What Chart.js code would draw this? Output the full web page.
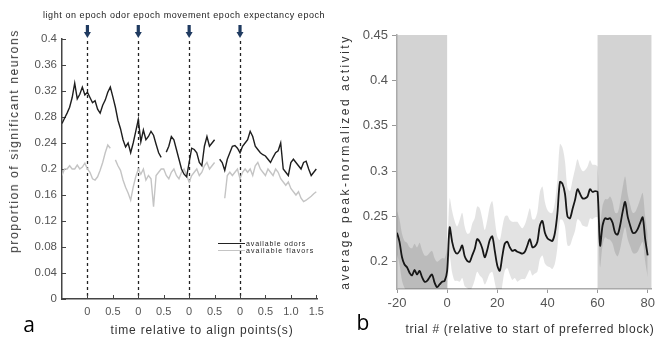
<!DOCTYPE html>
<html>
<head>
<meta charset="utf-8">
<script src="https://cdn.jsdelivr.net/npm/chart.js@4.4.0/dist/chart.umd.min.js"></script>
<style>
    body { margin: 0; background: #fff; width: 658px; height: 344px; overflow: hidden; position: relative; font-family: "Liberation Sans", Arial, sans-serif; }
    #wrapA { position: absolute; left: 0; top: 0; width: 330px; height: 344px; }
    #wrapB { position: absolute; left: 330px; top: 0; width: 328px; height: 344px; }
    .txt { position: absolute; white-space: nowrap; color: #333; }
    .rot { transform: translate(-50%, -50%) rotate(-90deg); }
    .hor { transform: translate(-50%, -50%); }
    .panel { position: absolute; font-family: "Open Sans", sans-serif; font-size: 21px; color: #000; transform: translate(-50%, -50%); }
    #legendA { position: absolute; left: 218px; top: 240px; font-size: 7px; color: #222; line-height: 7px; }
    #legendA div { display: flex; align-items: center; height: 7px; white-space: nowrap; }
    #legendA span.ln { display: inline-block; width: 27px; height: 1.4px; margin-right: 1px; }
</style>
</head>
<body>
<div id="wrapA"><canvas id="panelA"></canvas></div>
<div id="wrapB"><canvas id="panelB"></canvas></div>

<div class="txt" id="epochHeader" style="left:43px; top:10px; font-size:9px; color:#222;">light on epoch odor epoch movement epoch expectancy epoch</div>
<div class="txt rot" id="yTitleA" style="left:14px; top:141px; font-size:12px;">proportion of significant neurons</div>
<div class="txt hor" id="xTitleA" style="left:202px; top:330px; font-size:12px;">time relative to align points(s)</div>
<div class="txt rot" id="yTitleB" style="left:345px; top:162px; font-size:12px;">average peak-normalized activity</div>
<div class="txt hor" id="xTitleB" style="left:530px; top:329px; font-size:12px;">trial # (relative to start of preferred block)</div>
<div class="panel" style="left:29px; top:324px;">a</div>
<div class="panel" style="left:363px; top:322px;">b</div>
<div id="legendA">
    <div><span class="ln" style="background:#222"></span><span id="legOdors">available odors</span></div>
    <div><span class="ln" style="background:#c4c4c4"></span><span id="legFlavors">available flavors</span></div>
</div>

<script>
// ---------- panel a : epochs laid end to end, align points at 0,1,2,3 ----------
const timeA = [-0.5, -0.45, -0.4, -0.35, -0.3, -0.25, -0.2, -0.15, -0.1, -0.05,
    0, 0.05, 0.1, 0.15, 0.2, 0.25, 0.3, 0.35, 0.4, 0.45,
    0.5, 0.55, 0.6, 0.65, 0.7, 0.75, 0.8, 0.85, 0.9, 0.95,
    1, 1.05, 1.1, 1.15, 1.2, 1.25, 1.3, 1.35, 1.4, 1.45,
    1.5, 1.55, 1.6, 1.65, 1.7, 1.75, 1.8, 1.85, 1.9, 1.95,
    2, 2.05, 2.1, 2.15, 2.2, 2.25, 2.3, 2.35, 2.4, 2.45,
    2.5, 2.55, 2.6, 2.65, 2.7, 2.75, 2.8, 2.85, 2.9, 2.95,
    3, 3.05, 3.1, 3.15, 3.2, 3.25, 3.3, 3.35, 3.4, 3.45,
    3.5, 3.55, 3.6, 3.65, 3.7, 3.75, 3.8, 3.85, 3.9, 3.95,
    4, 4.05, 4.1, 4.15, 4.2, 4.25, 4.3, 4.35, 4.4, 4.45, 4.5];

const availableOdors = [0.27, 0.278, 0.286, 0.295, 0.31, 0.332, 0.308, 0.315, 0.326, 0.314,
    0.318, 0.31, 0.302, 0.305, 0.292, 0.286, 0.298, 0.306, 0.318, 0.326,
    0.311, 0.295, 0.275, 0.262, 0.245, 0.234, 0.24, 0.225, 0.24, 0.258,
    0.276, 0.242, 0.26, 0.245, 0.25, 0.258, 0.252, 0.238, 0.225, 0.218,
    null, 0.226, 0.235, 0.25, 0.245, 0.23, 0.215, 0.2, 0.192, 0.188,
    0.21, 0.232, 0.23, 0.225, 0.21, 0.205, 0.235, 0.25, 0.235, 0.24,
    0.245, null, 0.215, 0.21, 0.198, 0.215, 0.225, 0.235, 0.236, 0.232,
    0.225, 0.235, 0.24, 0.245, 0.258, 0.25, 0.235, 0.23, 0.225, 0.222,
    0.22, 0.215, 0.21, 0.218, 0.225, 0.228, 0.24, 0.2, 0.195, 0.19,
    0.21, 0.215, 0.21, 0.205, 0.2, 0.21, 0.212, 0.2, 0.19, 0.195, 0.2];

const availableFlavors = [0.19, 0.2, 0.2, 0.205, 0.2, 0.2, 0.206, 0.2, 0.203, 0.209,
    0.2, 0.195, 0.185, 0.183, 0.188, 0.198, 0.21, 0.225, 0.237, 0.232,
    null, 0.214, 0.205, 0.198, 0.183, 0.172, 0.163, 0.152, 0.172, 0.188,
    0.2, 0.192, 0.2, 0.183, 0.19, 0.185, 0.142, 0.19, 0.195, 0.2,
    0.2, 0.19, 0.185, 0.195, 0.2, 0.19, 0.185, 0.195, 0.2, 0.19,
    0.18, 0.19, 0.195, 0.2, 0.19, 0.195, 0.205, 0.21, 0.2, 0.205,
    0.21, null, null, null, 0.155, 0.19, 0.195, 0.19, 0.195, 0.2,
    0.185, 0.195, 0.2, 0.195, 0.2, 0.19, 0.205, 0.21, 0.2, 0.195,
    0.19, 0.2, 0.195, 0.19, 0.2, 0.195, 0.185, 0.18, 0.175, 0.18,
    0.17, 0.165, 0.16, 0.165, 0.155, 0.15, 0.152, 0.155, 0.158, 0.162, 0.165];

const yTicksA = [0, 0.04, 0.08, 0.12, 0.16, 0.2, 0.24, 0.28, 0.32, 0.36, 0.4];
const xTickPosA = [0, 0.5, 1, 1.5, 2, 2.5, 3, 3.5, 4, 4.5];
const xTickLabelsA = ['0', '0.5', '0', '0.5', '0', '0.5', '0', '0.5', '1.0', '1.5'];
const alignPoints = [0, 1, 2, 3];

// ---------- panel b : trials around the preferred block ----------
const trials = [-20, -19, -18, -17, -16, -15, -14, -13, -12, -11,
    -10, -9, -8, -7, -6, -5, -4, -3, -2, -1,
    0, 1, 2, 3, 4, 5, 6, 7, 8, 9,
    10, 11, 12, 13, 14, 15, 16, 17, 18, 19,
    20, 21, 22, 23, 24, 25, 26, 27, 28, 29,
    30, 31, 32, 33, 34, 35, 36, 37, 38, 39,
    40, 41, 42, 43, 44, 45, 46, 47, 48, 49,
    50, 51, 52, 53, 54, 55, 56, 57, 58, 59,
    60, 61, 62, 63, 64, 65, 66, 67, 68, 69,
    70, 71, 72, 73, 74, 75, 76, 77, 78, 79, 80];

const meanActivity = [0.232, 0.222, 0.205, 0.197, 0.194, 0.188, 0.185, 0.191, 0.186, 0.19,
    0.183, 0.178, 0.179, 0.183, 0.186, 0.177, 0.172, 0.175, 0.178, 0.179,
    0.19, 0.238, 0.222, 0.212, 0.209, 0.212, 0.218, 0.206, 0.201, 0.2,
    0.207, 0.214, 0.225, 0.222, 0.215, 0.205, 0.213, 0.224, 0.228, 0.212,
    0.196, 0.19, 0.206, 0.22, 0.222, 0.216, 0.212, 0.213, 0.211, 0.21,
    0.209, 0.211, 0.218, 0.225, 0.216, 0.217, 0.222, 0.24, 0.245, 0.232,
    0.226, 0.224, 0.223, 0.232, 0.254, 0.288, 0.286, 0.275, 0.25, 0.248,
    0.258, 0.268, 0.28, 0.275, 0.27, 0.27, 0.272, 0.28, 0.277, 0.278,
    0.277, 0.218, 0.24, 0.248, 0.247, 0.248, 0.243, 0.232, 0.23, 0.24,
    0.255, 0.266, 0.25, 0.24, 0.232, 0.232, 0.236, 0.243, 0.249, 0.225, 0.207];

const semActivity = [0.024, 0.025, 0.026, 0.026, 0.027, 0.028, 0.03, 0.029, 0.03, 0.031,
    0.03, 0.029, 0.028, 0.027, 0.026, 0.027, 0.028, 0.027, 0.026, 0.025,
    0.026, 0.032, 0.034, 0.033, 0.03, 0.034, 0.036, 0.033, 0.03, 0.032,
    0.035, 0.034, 0.036, 0.037, 0.033, 0.03, 0.033, 0.037, 0.039, 0.035,
    0.032, 0.034, 0.032, 0.03, 0.029, 0.03, 0.032, 0.031, 0.033, 0.03,
    0.028, 0.03, 0.032, 0.034, 0.031, 0.03, 0.033, 0.037, 0.038, 0.034,
    0.031, 0.03, 0.031, 0.034, 0.038, 0.042, 0.04, 0.036, 0.032, 0.03,
    0.032, 0.034, 0.033, 0.03, 0.03, 0.031, 0.033, 0.032, 0.03, 0.029,
    0.028, 0.024, 0.022, 0.021, 0.022, 0.024, 0.023, 0.022, 0.024, 0.026,
    0.027, 0.028, 0.025, 0.023, 0.022, 0.023, 0.025, 0.026, 0.027, 0.025, 0.024];

const xTicksB = [-20, 0, 20, 40, 60, 80];
const yTicksB = [0.2, 0.25, 0.3, 0.35, 0.4, 0.45];
const shadedBlocks = [[-20, 0], [60, 81.5]];

Chart.defaults.font.family = '"Liberation Sans", Arial, sans-serif';
Chart.defaults.animation = false;

function pairs(xs, ys) {
    return xs.map((x, i) => ({ x: x, y: ys[i] }));
}

// stretch a text box to the width it has in the picture
function fitWidth(id, width) {
    const el = document.getElementById(id);
    const n = el.textContent.length;
    const extra = (width - el.offsetWidth) / n;
    el.style.letterSpacing = extra + 'px';
}

/////////////////// Panel a ///////////////////
const epochMarks = {
    id: 'epochMarks',
    beforeDatasetsDraw(chart) {
        const { ctx, chartArea, scales: { x, y } } = chart;
        ctx.save();
        // dotted lines at the align points
        ctx.strokeStyle = '#222';
        ctx.lineWidth = 1.3;
        ctx.setLineDash([3, 3]);
        alignPoints.forEach(p => {
            const px = Math.round(x.getPixelForValue(p)) + 0.5;
            ctx.beginPath();
            ctx.moveTo(px, chartArea.top + 2);
            ctx.lineTo(px, chartArea.bottom);
            ctx.stroke();
        });
        ctx.setLineDash([]);
        // arrows above the plot
        ctx.fillStyle = '#1f3a60';
        alignPoints.forEach(p => {
            const px = x.getPixelForValue(p);
            ctx.fillRect(px - 1.6, chartArea.top - 14, 3.2, 8);
            ctx.beginPath();
            ctx.moveTo(px - 3.5, chartArea.top - 7);
            ctx.lineTo(px + 3.5, chartArea.top - 7);
            ctx.lineTo(px, chartArea.top - 1);
            ctx.closePath();
            ctx.fill();
        });
        // inward tick marks
        ctx.strokeStyle = '#444';
        ctx.lineWidth = 1;
        y.ticks.forEach(t => {
            const py = Math.round(y.getPixelForValue(t.value)) + 0.5;
            ctx.beginPath();
            ctx.moveTo(chartArea.left, py);
            ctx.lineTo(chartArea.left + 4, py);
            ctx.stroke();
        });
        x.ticks.forEach(t => {
            const px = Math.round(x.getPixelForValue(t.value)) + 0.5;
            ctx.beginPath();
            ctx.moveTo(px, chartArea.bottom);
            ctx.lineTo(px, chartArea.bottom - 4);
            ctx.stroke();
        });
        ctx.restore();
    }
};

new Chart(document.getElementById('panelA'), {
    type: 'line',
    data: {
        datasets: [{
            label: 'available odors',
            data: pairs(timeA, availableOdors),
            borderColor: '#1e1e1e',
            borderWidth: 1.4,
            pointRadius: 0,
            spanGaps: false
        }, {
            label: 'available flavors',
            data: pairs(timeA, availableFlavors),
            borderColor: '#c4c4c4',
            borderWidth: 1.4,
            pointRadius: 0,
            spanGaps: false
        }]
    },
    options: {
        responsive: true,
        maintainAspectRatio: false,
        layout: { padding: { left: 0, right: 10, top: 39, bottom: 0 } },
        plugins: { legend: { display: false }, tooltip: { enabled: false } },
        scales: {
            x: {
                type: 'linear',
                min: -0.5,
                max: 4.53,
                afterBuildTicks: s => { s.ticks = xTickPosA.map(v => ({ value: v })); },
                afterFit: s => { s.height = 45; },
                grid: { display: false, drawTicks: false },
                border: { color: '#444', width: 1.5 },
                ticks: {
                    autoSkip: false,
                    maxRotation: 0,
                    padding: 6,
                    color: '#555',
                    font: { size: 11 },
                    callback: (v, i) => xTickLabelsA[i]
                }
            },
            y: {
                min: 0,
                max: 0.4,
                afterBuildTicks: s => { s.ticks = yTicksA.map(v => ({ value: v })); },
                afterFit: s => { s.width = 62; },
                grid: { display: false, drawTicks: false },
                border: { color: '#444', width: 1.5 },
                ticks: {
                    padding: 5,
                    color: '#555',
                    font: { size: 11.5 },
                    callback: v => String(+v.toFixed(2))
                }
            }
        }
    },
    plugins: [epochMarks]
});

/////////////////// Panel b ///////////////////
const blockShading = {
    id: 'blockShading',
    beforeDraw(chart) {
        const { ctx, chartArea, scales: { x } } = chart;
        ctx.save();
        ctx.fillStyle = '#d3d3d3';
        shadedBlocks.forEach(([a, b]) => {
            const x0 = x.getPixelForValue(a);
            const x1 = x.getPixelForValue(b);
            ctx.fillRect(x0, chartArea.top, x1 - x0, chartArea.bottom - chartArea.top);
        });
        ctx.restore();
    }
};

const upperBand = meanActivity.map((m, i) => m + semActivity[i]);
const lowerBand = meanActivity.map((m, i) => m - semActivity[i]);

new Chart(document.getElementById('panelB'), {
    type: 'line',
    data: {
        datasets: [{
            label: 'upper',
            data: pairs(trials, upperBand),
            borderWidth: 0,
            pointRadius: 0,
            tension: 0.3,
            backgroundColor: 'rgba(0, 0, 0, 0.11)',
            fill: '+1'
        }, {
            label: 'lower',
            data: pairs(trials, lowerBand),
            borderWidth: 0,
            pointRadius: 0,
            tension: 0.3,
            fill: false
        }, {
            label: 'mean',
            data: pairs(trials, meanActivity),
            borderColor: '#1a1a1a',
            borderWidth: 1.8,
            pointRadius: 0,
            tension: 0.3,
            fill: false
        }]
    },
    options: {
        responsive: true,
        maintainAspectRatio: false,
        layout: { padding: { left: 0, right: 5, top: 35, bottom: 0 } },
        plugins: { legend: { display: false }, tooltip: { enabled: false } },
        scales: {
            x: {
                type: 'linear',
                min: -20,
                max: 81.5,
                afterBuildTicks: s => { s.ticks = xTicksB.map(v => ({ value: v })); },
                afterFit: s => { s.height = 55; },
                grid: { drawOnChartArea: false, color: '#999', tickLength: 4 },
                border: { color: '#aaa', width: 1.5 },
                ticks: { padding: 3, color: '#555', font: { size: 13 }, maxRotation: 0, autoSkip: false }
            },
            y: {
                min: 0.17,
                max: 0.45,
                afterBuildTicks: s => { s.ticks = yTicksB.map(v => ({ value: v })); },
                afterFit: s => { s.width = 67; },
                grid: { drawOnChartArea: false, color: '#999', tickLength: 5 },
                border: { color: '#aaa', width: 1.5 },
                ticks: {
                    padding: 4,
                    color: '#555',
                    font: { size: 13 },
                    callback: v => String(+v.toFixed(2))
                }
            }
        }
    },
    plugins: [blockShading]
});

fitWidth('epochHeader', 282);
fitWidth('yTitleA', 224);
fitWidth('xTitleA', 183);
fitWidth('yTitleB', 255);
fitWidth('xTitleB', 249);
fitWidth('legOdors', 60);
fitWidth('legFlavors', 68);
</script>
</body>
</html>
